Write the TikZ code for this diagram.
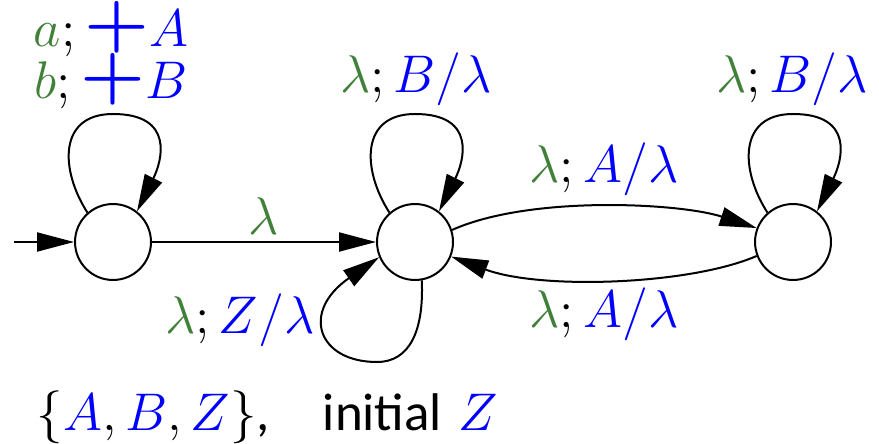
\documentclass[tikz,border=0pt]{standalone}
\usepackage{graphicx}
\usepackage{fontspec}
\newfontfamily\carlito{Carlito}
\usetikzlibrary{arrows.meta,calc}
\definecolor{lgreen}{RGB}{64,128,56}
\definecolor{lblue}{RGB}{0,0,255}
\newcommand{\gr}[1]{\textcolor{lgreen}{#1}}
\newcommand{\bl}[1]{\textcolor{lblue}{#1}}
\newcommand{\bplus}{\mathord{\raisebox{0.05em}{\scalebox{1.4}[1.3]{\bfseries +}}}}
\tikzset{
  stnode/.style={circle, draw, line width=0.453pt, minimum size=17.2pt, inner sep=0pt},
  conn/.style={draw, line width=0.453pt, -{Triangle[length=8.38pt,width=4.3pt]}},
  lbl/.style={anchor=base, inner sep=0pt, font=\fontsize{12}{14}\selectfont},
}
\newcommand{\toploop}[1]{\draw[conn] (#1.131) .. controls ($(#1)+(-53,-72)$) and ($(#1)+(-55,-128)$) .. ($(#1)+(0,-128)$) .. controls ($(#1)+(62,-128)$) and ($(#1)+(49,-81)$) .. (#1.52);}
\begin{document}
\begin{tikzpicture}[x=0.22642pt,y=-0.22642pt]
\useasboundingbox (0,0) rectangle (879,443);
\node[stnode] (n1) at (113,242) {};
\node[stnode] (n2) at (415,242) {};
\node[stnode] (n3) at (793,242) {};
\coordinate (init) at (14,242);
\draw[conn] (init) -- (n1);
\draw[conn] (n1) -- (n2);
\toploop{n1}
\toploop{n2}
\toploop{n3}
\draw[conn] (n2.18) .. controls (530,195) and (680,203) .. (n3.159);
\draw[conn] (n3.201) .. controls (690,285) and (540,290) .. (n2.338);
\draw[conn] (n2.-80) .. controls (424,330) and (410,362) .. (377,362) .. controls (318,362) and (300,312) .. (n2.203);
\node[lbl] (l1a) at (111,47) {$\gr{a};\bl{\bplus A}$};
\node[lbl] (l1b) at (111,99) {$\gr{b};\bl{\bplus B}$};
\node[lbl] (l12) at (264,235) {$\gr{\lambda}$};
\node[lbl] (l2t) at (416,93) {$\gr{\lambda};\bl{B/\lambda}$};
\node[lbl] (l3t) at (792,93) {$\gr{\lambda};\bl{B/\lambda}$};
\node[lbl] (l23) at (604,183) {$\gr{\lambda};\bl{A/\lambda}$};
\node[lbl] (l32) at (604,327) {$\gr{\lambda};\bl{A/\lambda}$};
\node[lbl] (l2b) at (240,333) {$\gr{\lambda};\bl{Z/\lambda}$};
\node[lbl, anchor=base west] (bot) at (36,430) {$\{\bl{A},\bl{B},\bl{Z}\}$\carlito,\hspace{1em}initial\hspace{0.3em}$\bl{Z}$};
\end{tikzpicture}
\end{document}
